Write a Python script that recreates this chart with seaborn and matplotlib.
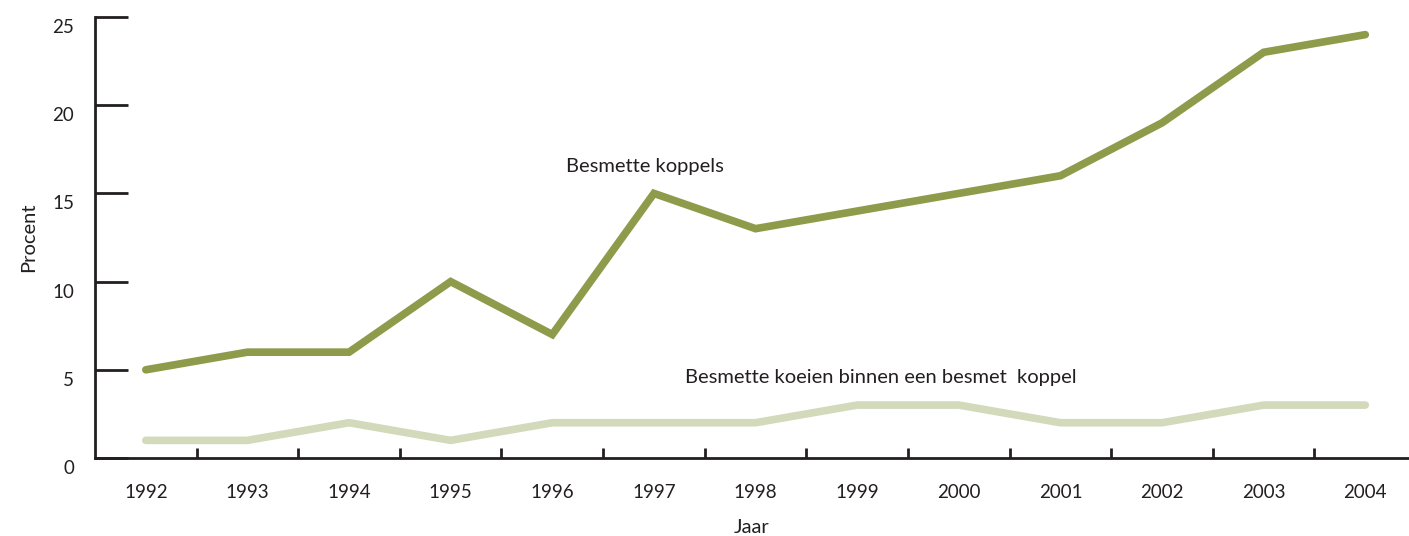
import numpy as np
import pandas as pd
import seaborn as sns
import matplotlib.pyplot as plt
from matplotlib.ticker import FixedLocator
from matplotlib.transforms import ScaledTranslation

# data
years = [1992, 1993, 1994, 1995, 1996, 1997, 1998, 1999, 2000, 2001, 2002, 2003, 2004]
koppels = [5, 6, 6, 10, 7, 15, 13, 14, 15, 16, 19, 23, 24]
koeien = [1, 1, 2, 1, 2, 2, 2, 3, 3, 2, 2, 3, 3]
y_ticks = [0, 5, 10, 15, 20, 25]

green = '#8d9b4a'
light = '#d3d9bb'
ink = '#231f20'

sns.set_style('white')
plt.rcParams['font.family'] = ['Lato', 'DejaVu Sans']

data = pd.DataFrame({'Jaar': years, 'Besmette koppels': koppels,
                     'Besmette koeien': koeien})

fig = plt.figure(figsize=(14.09, 5.36), dpi=100)
ax = fig.add_axes([95 / 1409, 78 / 536, 1 - 95 / 1409, 441 / 536])

sns.lineplot(data=data, x='Jaar', y='Besmette koeien', ax=ax, color=light,
             linewidth=5.5, solid_capstyle='round', solid_joinstyle='miter')
sns.lineplot(data=data, x='Jaar', y='Besmette koppels', ax=ax, color=green,
             linewidth=5.5, solid_capstyle='round', solid_joinstyle='miter')

ax.set_xlim(1991.5, 2004.43)
ax.set_ylim(0, 25)

for s in ['top', 'right']:
    ax.spines[s].set_visible(False)
for s in ['left', 'bottom']:
    ax.spines[s].set_color(ink)
    ax.spines[s].set_linewidth(2)

ax.set_xticks(years)
ax.set_xticklabels([str(y) for y in years])
ax.xaxis.set_minor_locator(FixedLocator([y + 0.5 for y in years[:-1]]))
ax.tick_params(axis='x', which='both', bottom=True)
ax.tick_params(axis='x', which='major', length=0, pad=19, labelsize=13.5, labelcolor=ink)
ax.tick_params(axis='x', which='minor', direction='in', length=7, width=2, color=ink)

ax.set_yticks(y_ticks)
ax.tick_params(axis='y', which='major', left=True, direction='in', length=24, width=2,
               color=ink, pad=15, labelsize=13.5, labelcolor=ink)
offset = ScaledTranslation(0, -9 / 100, fig.dpi_scale_trans)
for lab in ax.get_yticklabels():
    lab.set_transform(lab.get_transform() + offset)

ax.set_xlabel('Jaar', fontsize=14.5, color=ink, labelpad=13)
ax.set_ylabel('Procent', fontsize=14.5, color=ink, labelpad=11)

ax.text(1996.91, 16.55, 'Besmette koppels', fontsize=14.5, color=ink,
        ha='center', va='center')
ax.text(1997.31, 4.54, 'Besmette koeien binnen een besmet  koppel', fontsize=14.5,
        color=ink, ha='left', va='center')

fig.savefig('out.png', dpi=100)
